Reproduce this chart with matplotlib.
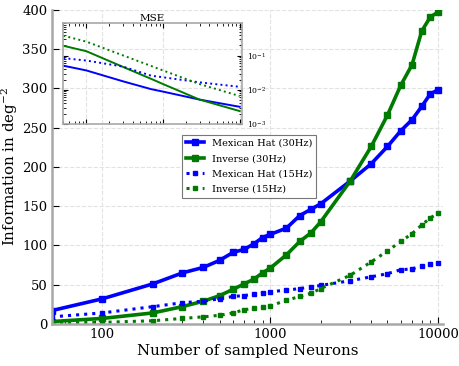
import numpy as np
import matplotlib
matplotlib.use('Agg')
import matplotlib.pyplot as plt
from matplotlib.ticker import FixedLocator, FuncFormatter, LogLocator, NullFormatter

plt.rcParams['font.family'] = ['DejaVu Serif']
plt.rcParams['mathtext.fontset'] = 'dejavuserif'

# number of sampled neurons
neurons = [50, 100, 200, 300, 400, 500, 600, 700, 800, 900, 1000, 1250, 1500,
           1750, 2000, 3000, 4000, 5000, 6000, 7000, 8000, 9000, 10000]

# information values
mexhat_30 = [17, 32, 51, 65, 72, 81, 91, 95, 102, 110, 114, 122, 138,
             146, 153, 182, 204, 226, 246, 260, 277, 293, 298]
inverse_30 = [3, 7, 14, 22, 29, 36, 44, 51, 57, 65, 71, 88, 105,
              116, 130, 182, 226, 266, 304, 330, 373, 391, 397]
mexhat_15 = [9, 14, 22, 27, 29, 32, 35, 36, 38, 39, 41, 43, 45,
             47, 49, 55, 60, 64, 69, 70, 74, 76, 77]
inverse_15 = [1, 2, 4, 7, 9, 11, 14, 18, 20, 22, 23, 30, 35,
              39, 45, 62, 79, 93, 105, 115, 126, 135, 141]

# MSE inset values
mse_neurons = [50, 100, 300, 700, 1000, 3000, 10000]
mse_mexhat_30 = [0.051, 0.037, 0.0178, 0.0105, 0.0089, 0.0052, 0.0032]
mse_inverse_30 = [0.195, 0.135, 0.047, 0.021, 0.0148, 0.0052, 0.0024]
mse_mexhat_15 = [0.085, 0.072, 0.048, 0.026, 0.0234, 0.0166, 0.0123]
mse_inverse_15 = [0.385, 0.257, 0.102, 0.050, 0.037, 0.0148, 0.0066]

blue = '#0000ff'
green = '#007a00'
spine_grey = '#a8a8a8'

fig = plt.figure(figsize=(4.59, 3.66), dpi=100)
ax = fig.add_axes([0.113, 0.115, 0.852, 0.858])

ax.plot(neurons, mexhat_30, '-s', color=blue, lw=2.6, ms=5, label='Mexican Hat (30Hz)')
ax.plot(neurons, inverse_30, '-s', color=green, lw=2.6, ms=5, label='Inverse (30Hz)')
ax.plot(neurons, mexhat_15, ':s', color=blue, lw=2.2, ms=3.5, label='Mexican Hat (15Hz)')
ax.plot(neurons, inverse_15, ':s', color=green, lw=2.2, ms=3.5, label='Inverse (15Hz)')

ax.set_xscale('log')
ax.set_xlim(50, 10700)
ax.set_ylim(0, 400)
ax.xaxis.set_major_locator(FixedLocator([100, 1000, 10000]))
ax.xaxis.set_major_formatter(FuncFormatter(lambda v, p: '%d' % v))
ax.xaxis.set_minor_locator(LogLocator(base=10, subs=np.arange(2, 10)))
ax.xaxis.set_minor_formatter(NullFormatter())
ax.set_yticks(np.arange(0, 401, 50))

for side in ['top', 'right']:
    ax.spines[side].set_visible(False)
for side in ['left', 'bottom']:
    ax.spines[side].set_color(spine_grey)
    ax.spines[side].set_linewidth(1.8)
ax.tick_params(which='both', direction='in', labelsize=9.5, top=False, right=False, pad=3)
ax.tick_params(which='major', length=5)
ax.tick_params(which='minor', length=3)
ax.grid(True, which='major', linestyle='--', color='#e2e2e2', linewidth=0.8)

ax.set_xlabel('Number of sampled Neurons', fontsize=10.8, labelpad=2)
ax.set_ylabel('Information in deg$^{-2}$', fontsize=10.8, labelpad=2)

leg = ax.legend(loc='upper left', bbox_to_anchor=(0.334, 0.602), borderaxespad=0,
                fontsize=7.0, fancybox=False, edgecolor='#777777', framealpha=1,
                handlelength=1.8, labelspacing=0.65)
leg.get_frame().set_linewidth(0.8)

# inset with MSE
ins = fig.add_axes([0.138, 0.661, 0.389, 0.276])
ins.patch.set_alpha(0)
ins.plot(mse_neurons, mse_mexhat_30, '-', color=blue, lw=1.4)
ins.plot(mse_neurons, mse_inverse_30, '-', color=green, lw=1.4)
ins.plot(mse_neurons, mse_mexhat_15, ':', color=blue, lw=1.4)
ins.plot(mse_neurons, mse_inverse_15, ':', color=green, lw=1.4)
ins.set_xscale('log')
ins.set_yscale('log')
ins.set_xlim(50, 10700)
ins.set_ylim(1e-3, 0.9)
ins.set_title('MSE', fontsize=7.5, pad=1.5)
ins.xaxis.set_major_formatter(NullFormatter())
ins.xaxis.set_minor_formatter(NullFormatter())
ins.yaxis.tick_right()
ins.set_yticks([1e-3, 1e-2, 1e-1])
ins.tick_params(which='both', direction='in', top=True, right=True, left=True,
                bottom=True, labelleft=False, labelright=True, labelsize=5.5)
ins.tick_params(which='major', length=3.5)
ins.tick_params(which='minor', length=2)
ins.grid(True, axis='x', which='major', linestyle='--', color='#e2e2e2', linewidth=0.8)
for side in ins.spines.values():
    side.set_color(spine_grey)
    side.set_linewidth(1.2)

fig.savefig('out.png', dpi=100)
